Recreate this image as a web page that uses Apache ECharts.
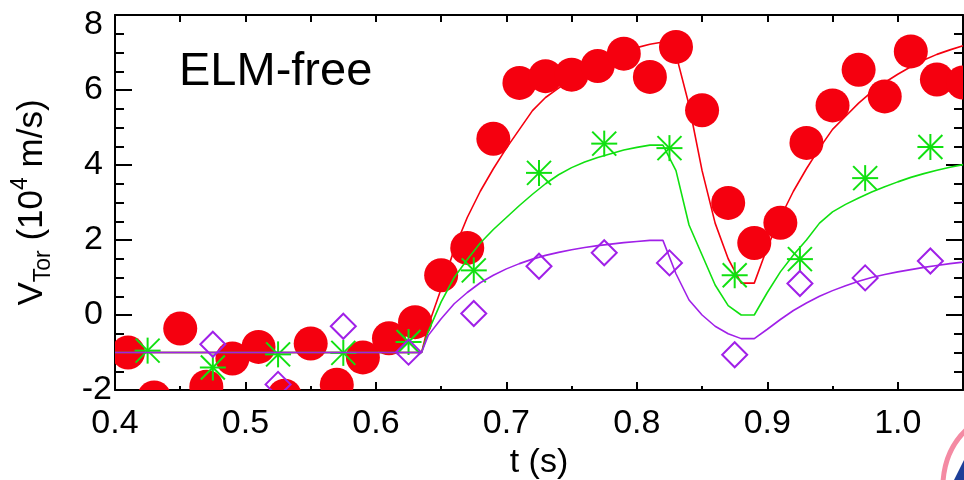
<!DOCTYPE html>
<html><head><meta charset="utf-8">
<script src="https://cdn.jsdelivr.net/npm/echarts@6/dist/echarts.min.js"></script>
<style>html,body{margin:0;padding:0;background:#fff}#c{width:964px;height:480px}</style>
</head><body><div id="c"></div>
<script>
// ---- data ----
const redT = [0.41,0.43,0.45,0.47,0.49,0.51,0.53,0.55,0.57,0.59,0.61,0.63,0.65,0.67,0.69,0.71,0.73,0.75,0.77,0.79,0.81,0.83,0.85,0.87,0.89,0.91,0.93,0.95,0.97,0.99,1.01,1.03,1.05];
const redV = [-1.0,-2.2,-0.36,-1.91,-1.16,-0.85,-2.15,-0.76,-1.86,-1.13,-0.62,-0.19,1.06,1.79,4.70,6.19,6.37,6.41,6.64,6.97,6.35,7.15,5.46,2.99,1.92,2.46,4.59,5.59,6.54,5.83,7.03,6.28,6.2];

const greenT = [0.425,0.475,0.525,0.575,0.625,0.675,0.725,0.775,0.825,0.875,0.925,0.975,1.025];
const greenV = [-0.95,-1.40,-1.05,-1.01,-0.72,1.19,3.79,4.57,4.45,1.06,1.49,3.65,4.48];

const purpleT = [0.475,0.525,0.575,0.625,0.675,0.725,0.775,0.825,0.875,0.925,0.975,1.025];
const purpleV = [-0.78,-1.85,-0.30,-0.99,0.04,1.30,1.66,1.39,-1.06,0.84,0.99,1.44];

const lineT = [0.40,0.635,0.64,0.65,0.66,0.67,0.68,0.69,0.70,0.71,0.72,0.73,0.74,0.75,0.76,0.77,0.78,0.79,0.80,0.81,0.82,0.83,0.84,0.85,0.86,0.87,0.88,0.89,0.90,0.91,0.92,0.93,0.94,0.95,0.96,0.97,0.98,0.99,1.00,1.01,1.02,1.03,1.04,1.05];
const redLine = [-1.0,-1.0,-0.3,0.7,1.75,2.6,3.3,3.9,4.45,4.95,5.45,5.8,6.05,6.3,6.52,6.72,6.88,7.02,7.13,7.22,7.28,6.95,5.6,3.85,2.45,1.5,0.85,0.85,1.8,2.6,3.3,3.9,4.45,4.95,5.3,5.65,5.95,6.2,6.42,6.62,6.8,6.95,7.07,7.18];
const greenLine = [-1.0,-1.0,-0.45,0.35,1.0,1.48,1.92,2.28,2.6,2.92,3.22,3.5,3.74,3.93,4.08,4.2,4.3,4.4,4.47,4.53,4.53,3.85,2.4,1.6,0.8,0.25,0.0,0.0,0.6,1.15,1.6,2.0,2.45,2.75,2.95,3.12,3.28,3.42,3.55,3.67,3.77,3.86,3.94,4.01];
const purpleLine = [-1.0,-1.0,-0.55,-0.1,0.3,0.6,0.86,1.06,1.23,1.37,1.49,1.59,1.67,1.74,1.8,1.85,1.89,1.93,1.96,1.99,1.99,1.1,0.4,0.0,-0.3,-0.5,-0.63,-0.63,-0.38,-0.12,0.12,0.32,0.5,0.65,0.78,0.9,1.0,1.08,1.15,1.21,1.27,1.32,1.37,1.41];

const yTicks = [-2, 0, 2, 4, 6, 8];
const xTickLabels = ['0.4','0.5','0.6','0.7','0.8','0.9','1.0'];
const titleText = 'ELM-free';
const xName = 't (s)';

// ---- styles ----
const RED = '#f5000f';
const GREEN = '#10e010';
const PURPLE = '#a020e8';
const FONT = 'Liberation Sans, Arial, sans-serif';

function pairs(t, v) { return t.map((x, i) => [x, v[i]]); }

const chart = echarts.init(document.getElementById('c'), null, {renderer: 'canvas'});

const axisLineStyle = {color: '#000', width: 2};
const tickLine = {color: '#000', width: 2};

function xLabelFmt(v) {
  const s = v.toFixed(1);
  if (Math.abs(v - 1.05) < 1e-6) return '';
  return xTickLabels.indexOf(s) >= 0 ? s : '';
}
function yLabelFmt(v) {
  const s = String(Math.round(v));
  if (yTicks.indexOf(Math.round(v)) < 0) return '';
  if (v >= 7.9) return '{t|' + s + '}';
  if (v <= -1.9) return '{m|' + s + '}';
  return '{a|' + s + '}';
}

const option = {
  animation: false,
  backgroundColor: '#fff',
  textStyle: {fontFamily: FONT},
  grid: {left: 115, right: 1, top: 15, bottom: 90, containLabel: false, outerBoundsMode: 'none'},
  graphic: [
    {type: 'text', left: 179, top: 49, z: 10,
     style: {text: titleText, fill: '#000', font: '47px ' + FONT}},
    {type: 'bezierCurve', z: 10, silent: true,
     shape: {x1: 943, y1: 482, cpx1: 945, cpy1: 450, x2: 966, y2: 430},
     style: {stroke: '#f48aa3', lineWidth: 5, fill: 'none'}},
    {type: 'polygon', z: 10, silent: true,
     shape: {points: [[953, 482], [966, 456], [966, 482]]},
     style: {fill: '#1d3f98'}}
  ],
  xAxis: [
    {type: 'value', position: 'bottom', min: 0.4, max: 1.05, interval: 0.1,
     axisLine: {show: true, onZero: false, lineStyle: axisLineStyle},
     axisTick: {show: true, inside: true, length: 8, lineStyle: tickLine},
     axisLabel: {show: true, margin: 17, color: '#000', fontSize: 34, fontFamily: FONT, formatter: xLabelFmt},
     splitLine: {show: false},
     name: xName, nameLocation: 'middle', nameGap: 53,
     nameTextStyle: {color: '#000', fontSize: 34, fontFamily: FONT}},
    {type: 'value', position: 'bottom', min: 0.4, max: 1.05, interval: 0.05,
     axisLine: {show: false, onZero: false},
     axisTick: {show: true, inside: true, length: 4, lineStyle: tickLine},
     axisLabel: {show: false}, splitLine: {show: false}},
    {type: 'value', position: 'top', min: 0.4, max: 1.05, interval: 0.05,
     axisLine: {show: true, onZero: false, lineStyle: axisLineStyle},
     axisTick: {show: true, inside: true, length: 7, lineStyle: tickLine},
     axisLabel: {show: false}, splitLine: {show: false}}
  ],
  yAxis: [
    {type: 'value', position: 'left', min: -2, max: 8, interval: 2,
     axisLine: {show: true, onZero: false, lineStyle: axisLineStyle},
     axisTick: {show: true, inside: true, length: 17, lineStyle: tickLine},
     minorTick: {show: true, splitNumber: 4, length: 9, lineStyle: tickLine},
     splitLine: {show: false}, minorSplitLine: {show: false},
     axisLabel: {show: true, margin: 3, formatter: yLabelFmt,
       rich: {
         a: {fontSize: 34, fontFamily: FONT, color: '#000', padding: [0, 9, 0, 0]},
         t: {fontSize: 34, fontFamily: FONT, color: '#000', padding: [20, 9, 0, 0]},
         m: {fontSize: 34, fontFamily: FONT, color: '#000', padding: [0, 0, 0, 0]}
       }},
     name: '{n|V}{sub|Tor}{n| (10}{sup|4}{n| m/s)}',
     nameLocation: 'middle', nameRotate: 90, nameGap: 60,
     nameTextStyle: {
       rich: {
         n: {fontSize: 35, fontFamily: FONT, color: '#000', lineHeight: 46},
         sub: {fontSize: 23, fontFamily: FONT, color: '#000', lineHeight: 23, verticalAlign: 'bottom'},
         sup: {fontSize: 23, fontFamily: FONT, color: '#000', lineHeight: 23, verticalAlign: 'top'}
       }
     }},
    {type: 'value', position: 'right', min: -2, max: 8, interval: 2,
     axisLine: {show: true, onZero: false, lineStyle: axisLineStyle},
     axisTick: {show: true, inside: true, length: 17, lineStyle: tickLine},
     minorTick: {show: true, splitNumber: 4, length: 9, lineStyle: tickLine},
     splitLine: {show: false}, minorSplitLine: {show: false},
     axisLabel: {show: false}}
  ],
  series: [
    {name: 'red fit', type: 'line', data: pairs(lineT, redLine), showSymbol: false, symbol: 'none',
     clip: true, z: 2, lineStyle: {color: RED, width: 1.6}},
    {name: 'red data', type: 'custom', data: pairs(redT, redV), clip: true, z: 3,
     renderItem: function (params, api) {
       const p = api.coord([api.value(0), api.value(1)]);
       return {type: 'circle', shape: {cx: p[0], cy: p[1], r: 17}, style: {fill: RED}};
     }},
    {name: 'green fit', type: 'line', data: pairs(lineT, greenLine), showSymbol: false, symbol: 'none',
     clip: true, z: 4, lineStyle: {color: GREEN, width: 1.6}},
    {name: 'green data', type: 'custom', data: pairs(greenT, greenV), clip: true, z: 5,
     renderItem: function (params, api) {
       const p = api.coord([api.value(0), api.value(1)]);
       const r = 13, d = 12;
       const st = {stroke: GREEN, lineWidth: 2};
       return {type: 'group', children: [
         {type: 'line', shape: {x1: p[0] - r, y1: p[1], x2: p[0] + r, y2: p[1]}, style: st},
         {type: 'line', shape: {x1: p[0], y1: p[1] - r, x2: p[0], y2: p[1] + r}, style: st},
         {type: 'line', shape: {x1: p[0] - d, y1: p[1] - d, x2: p[0] + d, y2: p[1] + d}, style: st},
         {type: 'line', shape: {x1: p[0] - d, y1: p[1] + d, x2: p[0] + d, y2: p[1] - d}, style: st}
       ]};
     }},
    {name: 'purple data', type: 'custom', data: pairs(purpleT, purpleV), clip: true, z: 6,
     renderItem: function (params, api) {
       const p = api.coord([api.value(0), api.value(1)]);
       const h = 12.5;
       return {type: 'polygon', shape: {points: [[p[0], p[1] - h], [p[0] + h, p[1]], [p[0], p[1] + h], [p[0] - h, p[1]]]},
         style: {fill: 'none', stroke: PURPLE, lineWidth: 2}};
     }},
    {name: 'purple fit', type: 'line', data: pairs(lineT, purpleLine), showSymbol: false, symbol: 'none',
     clip: true, z: 7, lineStyle: {color: PURPLE, width: 1.6}}
  ]
};
chart.setOption(option);
</script>
</body></html>
